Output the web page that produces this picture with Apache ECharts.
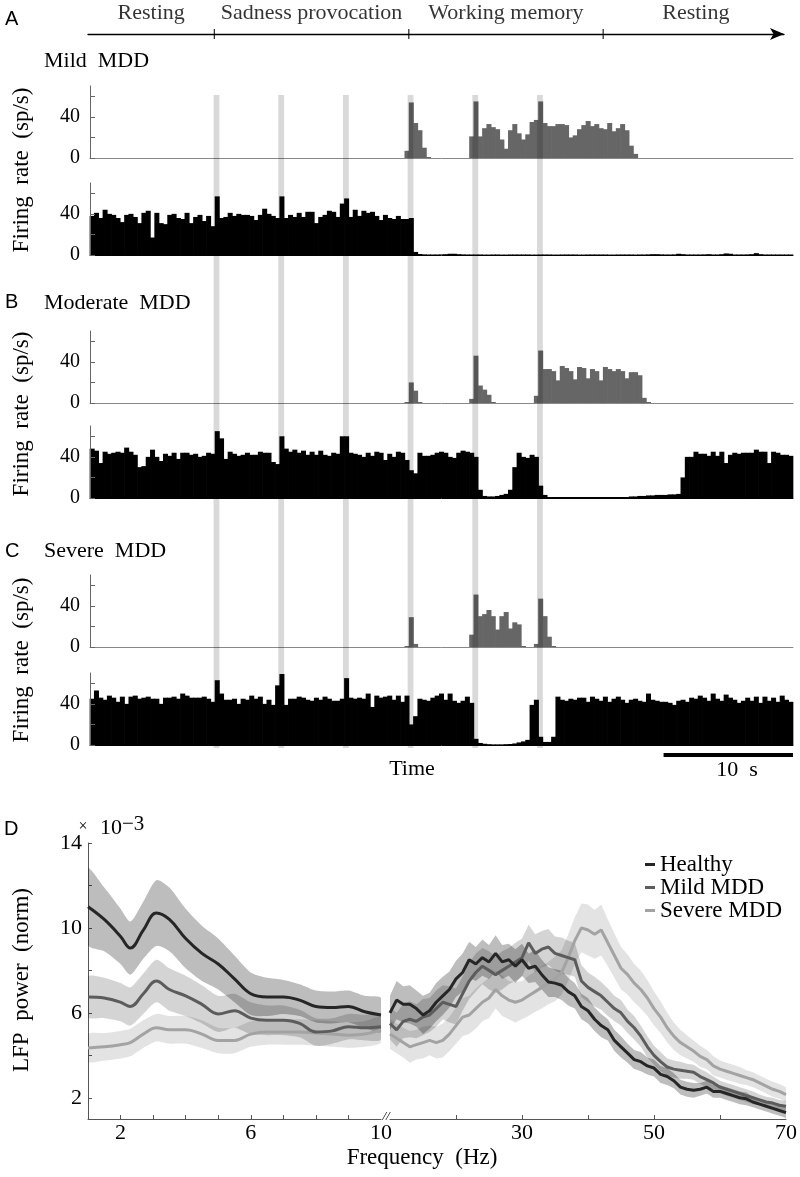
<!DOCTYPE html>
<html><head><meta charset="utf-8">
<script src="https://cdn.jsdelivr.net/npm/echarts@6/dist/echarts.min.js"></script>
<style>html,body{margin:0;padding:0;background:#fff}#c{width:800px;height:1177px}</style>
</head><body><div id="c"></div>
<script>
// ---------------- DATA ----------------
const binSec = 1/3;                       // histogram bin width (s)
const phaseNames = ['Resting','Sadness provocation','Working memory','Resting'];
const phaseEdges = [-0.15, 9.6, 24.6, 39.6, 53.9];   // s (first/last = arrow extent)
const stimOnsets = [9.55, 14.55, 19.55, 24.55, 29.55, 34.55]; // s
const stimDur = 0.45;                     // s
const scaleBarStart = 44.33, scaleBarLen = 10; // s

const mildTop = [
0,0,0,0,0,0,0,0,0,0, 0,0,0,0,0,0,0,0,0,0, 0,0,0,0,0,0,0,0,0,0, 0,0,0,0,0,0,0,0,0,0,
0,0,0,0,0,0,0,0,0,0, 0,0,0,0,0,0,0,0,0,0, 0,0,0,0,0,0,0,0,0,0,
0,0,0,7,54,34,27,10,1,0, 0,0,0,0,0,0,0,0,21,55,
21,29,33,30,28,18,9,27,33,24, 18,23,35,37,55,34,31,31,33,33,
32,20,22,28,32,36,31,33,29,28, 34,26,29,33,27,12,4,0,0,0,
0,0,0,0,0,0,0,0,0,0, 0,0,0,0,0,0,0,0,0,0, 0,0,0,0,0,0,0,0,0,0, 0,0,0];
const mildBot = [
38,41,36,44,40,39,36,32,39,40, 37,31,41,43,17,41,31,30,39,40,
36,35,41,31,37,39,33,38,28,57, 36,37,41,38,40,39,39,38,34,39,
45,40,38,36,57,36,39,37,41,37, 42,42,31,37,39,43,42,37,50,55,
37,44,38,43,41,42,38,34,39,36, 35,38,35,35,36,3,1,0.6,0.5,0.5,
0.5,0.6,0.8,1.2,1.2,0.8,0.6,0.5,0.5,0.5, 0.5,0.4,0.4,0.5,0.5,0.4,0.4,0.5,0.5,0.5,
0.5,0.5,0.4,0.4,0.5,0.5,0.5,0.4,0.4,0.5, 0.5,0.5,0.5,0.4,0.4,0.5,0.5,0.5,0.5,0.5,
0.4,0.4,0.5,0.5,0.5,0.5,0.4,0.5,0.5,0.6, 0.8,0.8,0.6,0.5,0.5,0.6,1.2,0.8,0.5,0.5,
0.5,0.5,0.6,0.8,0.5,0.5,0.8,1.5,1.2,0.5, 0.5,0.5,0.6,0.8,1.8,0.8,0.5,0.5,0.5,0.5,
0.5,0.5,0.5];
const modTop = [
0,0,0,0,0,0,0,0,0,0, 0,0,0,0,0,0,0,0,0,0, 0,0,0,0,0,0,0,0,0,0, 0,0,0,0,0,0,0,0,0,0,
0,0,0,0,0,0,0,0,0,0, 0,0,0,0,0,0,0,0,0,0, 0,0,0,0,0,0,0,0,0,0,
0,0,0,1,20,12,1,0,0,0, 0,0,0,0,0,0,0,0,4,46,
17,13,8,1,0,0,0,0,0,0, 0,0,0,7,51,33,33,31,22,36,
34,31,23,35,34,24,33,31,22,35, 33,31,33,31,24,30,30,27,5,1,
0,0,0,0,0,0,0,0,0,0, 0,0,0,0,0,0,0,0,0,0, 0,0,0,0,0,0,0,0,0,0, 0,0,0];
const modBot = [
48,46,34,45,43,44,45,44,49,45, 42,30,31,40,47,40,36,43,41,44,
38,44,44,42,43,40,41,44,43,65, 58,38,45,43,41,42,44,42,42,45,
44,44,35,33,60,48,45,47,44,46, 42,45,42,46,42,41,44,43,60,60,
44,43,42,40,44,41,45,44,37,43, 40,45,44,37,27,24,44,41,41,42,
44,45,44,40,39,44,46,45,44,40, 8,2,1.5,1.5,2,3,4,8,30,44,
40,39,42,40,12,3,1,1,1,1, 1,1,1,1,1,1,1,1,1,1,
1,1,1,1,1,1.5,1.5,2,2,2.5, 2.5,3,3,3,3.5,3.5,4,20,40,40,
45,43,43,41,45,41,45,34,42,44, 43,44,44,44,47,45,45,34,45,44,
42,42,41];
const sevTop = [
0,0,0,0,0,0,0,0,0,0, 0,0,0,0,0,0,0,0,0,0, 0,0,0,0,0,0,0,0,0,0, 0,0,0,0,0,0,0,0,0,0,
0,0,0,0,0,0,0,0,0,0, 0,0,0,0,0,0,0,0,0,0, 0,0,0,0,0,0,0,0,0,0,
0,0,0,1,29,3,0,0,0,0, 0,0,0,0,0,0,0,0,12,51,
30,32,36,30,17,30,34,18,24,22, 1,0,0,3,47,30,10,1,0,0,
0,0,0,0,0,0,0,0,0,0, 0,0,0,0,0,0,0,0,0,0,
0,0,0,0,0,0,0,0,0,0, 0,0,0,0,0,0,0,0,0,0, 0,0,0,0,0,0,0,0,0,0, 0,0,0];
const sevBot = [
45,53,46,44,48,46,42,47,40,47, 48,45,46,47,45,45,40,46,46,47,
45,50,48,46,46,46,47,45,42,63, 50,44,44,45,40,45,44,48,45,47,
40,44,39,58,69,39,45,45,47,46, 44,43,46,44,47,45,43,43,45,65,
46,45,46,45,50,37,48,46,47,48, 44,48,42,48,20,28,45,44,43,46,
48,50,44,50,43,41,43,47,41,6, 2,1.2,0.8,0.6,0.6,0.6,0.8,1,1.5,2.5,
3.5,5,39,44,8,3,3,8,47,44, 43,45,44,46,46,42,47,45,43,47,
42,45,47,44,41,44,45,43,42,50, 44,43,42,42,41,39,43,44,42,46,
45,48,46,43,50,45,43,49,46,44, 41,43,46,43,47,41,47,43,46,42,
48,44,42];

const histYTicks = [0,20,40,60];
const histYLabels = [0,40];

// LFP power (x 10^-3), low band (Hz) and high band (Hz)
const freqL = [1,1.5,2,2.3,2.7,3.1,3.5,4,4.5,5,5.5,6,6.5,7,7.5,8,8.5,9,9.5,10];
const healthyL    = [11.0,10.4,9.6,9.05,9.9,10.7,10.4,9.5,8.8,8.3,7.6,6.9,6.75,6.75,6.6,6.3,6.25,6.3,6.05,5.9];
const healthyErrL = [1.8,1.5,1.3,1.25,1.35,1.55,1.5,1.4,1.3,1.2,1.1,1.0,0.9,0.8,0.75,0.75,0.75,0.75,0.75,0.8];
const mildL       = [6.75,6.7,6.5,6.3,6.9,7.5,7.1,6.8,6.4,5.95,6.1,5.75,5.65,5.65,5.5,5.1,5.15,5.35,5.3,5.35];
const mildErrL    = [0.95,0.95,0.9,0.9,0.95,1.0,1.0,0.95,0.9,0.85,0.8,0.75,0.7,0.7,0.65,0.65,0.6,0.6,0.6,0.6];
const severeL     = [4.35,4.4,4.5,4.6,5.0,5.3,5.2,5.2,5.0,4.7,4.7,5.0,5.1,5.1,5.1,5.05,5.0,4.95,5.0,5.2];
const severeErrL  = [0.65,0.65,0.65,0.65,0.65,0.65,0.65,0.65,0.65,0.6,0.6,0.6,0.6,0.6,0.6,0.6,0.6,0.6,0.6,0.6];

const freqR = [10,11,12,13,14,15,16,17,18,19,20,21,22,23,24,25,26,27,28,29,30,31,32,33,34,35,36,37,38,39,
40,41,42,43,44,45,46,47,48,49,50,51,52,53,54,55,56,57,58,59,60,61,62,63,64,65,66,67,68,69,70];
const healthyR = [6.0,6.6,6.4,6.4,6.2,5.9,6.1,6.5,6.8,7.1, 7.6,7.9,8.5,8.3,8.6,8.4,8.8,8.4,8.5,8.2,
8.5,8.1,8.2,7.8,7.45,7.4,7.3,7.0,6.8,6.3, 6.1,5.7,5.4,5.2,4.7,4.4,4.1,3.8,3.7,3.5,
3.4,3.1,3.0,2.8,2.5,2.4,2.35,2.4,2.5,2.3, 2.3,2.2,2.1,2.0,1.95,1.8,1.7,1.6,1.5,1.4,1.3];
const healthyErrR = [0.8,0.9,0.85,0.9,0.85,0.9,0.85,0.9,0.9,0.85, 0.85,0.9,0.85,0.8,0.85,0.8,0.85,0.8,0.75,0.8,
0.75,0.7,0.75,0.7,0.7,0.65,0.7,0.65,0.6,0.6, 0.6,0.55,0.55,0.5,0.5,0.5,0.45,0.45,0.45,0.4,
0.4,0.4,0.4,0.35,0.35,0.35,0.35,0.3,0.3,0.3, 0.3,0.3,0.3,0.3,0.3,0.25,0.25,0.25,0.25,0.25,0.25];
const mildR = [5.5,5.2,5.6,5.7,5.6,5.8,5.9,6.2,6.5,6.4, 6.3,6.9,7.5,7.9,8.2,8.0,7.8,8.0,8.2,8.4,
8.6,9.3,8.8,9.0,9.1,8.8,8.7,8.6,8.5,7.5, 7.2,7.0,6.8,6.5,6.2,6.0,5.6,5.3,4.9,4.4,
4.0,3.7,3.45,3.35,3.3,3.25,3.2,3.0,2.85,2.7, 2.5,2.4,2.3,2.2,2.1,2.0,1.9,1.8,1.75,1.65,1.6];
const mildErrR = [0.75,0.8,0.8,0.85,0.8,0.85,0.8,0.85,0.8,0.85, 0.85,0.8,0.85,0.9,0.85,0.9,0.85,0.9,0.85,0.9,
0.9,0.85,0.9,0.85,0.85,0.8,0.85,0.8,0.8,0.75, 0.7,0.7,0.65,0.65,0.6,0.6,0.55,0.55,0.5,0.5,
0.45,0.45,0.4,0.4,0.4,0.35,0.35,0.35,0.35,0.3, 0.3,0.3,0.3,0.3,0.3,0.3,0.25,0.25,0.25,0.25,0.25];
const severeR = [5.0,4.8,4.6,4.4,4.5,4.6,4.7,4.6,4.7,5.0, 5.4,5.8,5.9,6.2,6.5,6.7,7.1,6.8,6.6,6.5,
6.6,6.8,7.0,7.2,7.4,7.6,7.9,8.6,9.4,10.0, 9.9,9.7,9.9,9.3,8.7,8.1,7.8,7.4,7.1,6.7,
6.2,5.8,5.3,4.9,4.6,4.4,4.2,3.95,3.8,3.5, 3.35,3.25,3.15,3.05,2.95,2.85,2.7,2.55,2.4,2.3,2.15];
const severeErrR = [0.7,0.7,0.7,0.75,0.7,0.75,0.7,0.75,0.8,0.8, 0.85,0.9,0.9,0.95,0.9,0.95,0.9,0.95,0.9,0.95,
0.9,0.95,0.95,1.0,1.0,1.05,1.05,1.1,1.1,1.15, 1.2,1.15,1.2,1.1,1.05,1.0,0.95,0.9,0.9,0.85,
0.8,0.75,0.7,0.65,0.6,0.55,0.5,0.5,0.45,0.45, 0.4,0.4,0.4,0.4,0.35,0.35,0.35,0.35,0.35,0.35,0.35];

const dYTicks = [2,4,6,8,10,12,14], dYLabels = [2,6,10,14];
const dXTicksL = [2,3,4,5,6,7,8,9], dXLabelsL = [2,6,10];
const dXTicksR = [20,30,40,50,60], dXLabelsR = [30,50,70];

// ---------------- CHART ----------------
const SERIF = '"Liberation Serif","Times New Roman",serif';
const SANS = '"Liberation Sans",Arial,sans-serif';
const nBins = mildTop.length;
const binCats = mildTop.map((_, i) => String(i));
const totalSec = nBins * binSec;

const grid = [], xAxis = [], yAxis = [], series = [];
function hidden(gi, min, max) {
  return {type:'value', gridIndex:gi, min, max, show:false};
}

// 0: timeline
grid.push({left:88, top:33, width:696, height:2});
xAxis.push({type:'value', gridIndex:0, min:phaseEdges[0], max:53.55,
  axisLine:{show:true, onZero:true, symbol:['none','arrow'], symbolSize:[9,14], lineStyle:{color:'#000', width:1.3}},
  axisTick:{show:false}, axisLabel:{show:false}, splitLine:{show:false}});
yAxis.push(hidden(0, -1, 1));
series.push({type:'scatter', xAxisIndex:0, yAxisIndex:0, silent:true, symbol:'rect', symbolSize:[1.3,10],
  itemStyle:{color:'#000'}, data: phaseEdges.slice(1, -1).map(b => [b, 0]), z:5});
series.push({type:'scatter', xAxisIndex:0, yAxisIndex:0, silent:true, symbolSize:1, itemStyle:{color:'rgba(0,0,0,0)'},
  data: phaseNames.map((n, i) => ({name:n, value:[(phaseEdges[i] + phaseEdges[i+1]) / 2, 0]})),
  label:{show:true, position:'top', distance:9, formatter: p => p.name, fontFamily:SERIF, fontSize:22, color:'#000'}});

// 1: stimulus stripes (drawn on top as a translucent dark overlay)
grid.push({left:90, top:95, width:703, height:653});
xAxis.push(hidden(1, 0, totalSec));
yAxis.push(hidden(1, 0, 1));
series.push({type:'custom', xAxisIndex:1, yAxisIndex:1, silent:true, z:6,
  data: stimOnsets.map(t => [t, 0]),
  renderItem: (params, api) => {
    const p0 = api.coord([api.value(0), 1]);
    const p1 = api.coord([api.value(0) + stimDur, 0]);
    return {type:'rect', shape:{x:p0[0], y:p0[1], width:p1[0] - p0[0], height:p1[1] - p0[1]},
      style:{fill:'rgba(0,0,0,0.15)'}};
  }});

// 2..7: histograms (contiguous bins drawn through the category/value scales)
const histTops = [86, 183, 331, 426, 575, 673];
const histData = [mildTop, mildBot, modTop, modBot, sevTop, sevBot];
histData.forEach((d, k) => {
  const gi = 2 + k, isTop = k % 2 === 0;
  const col = isTop ? '#666' : '#000';
  grid.push({left:90, top:histTops[k], width:703, height:72});
  xAxis.push({type:'category', gridIndex:gi, data:binCats, boundaryGap:true, z:4,
    axisLine:{show:true, lineStyle:{color: isTop ? '#888' : '#000', width:1}},
    axisTick:{show:false}, axisLabel:{show:false}, splitLine:{show:false}});
  yAxis.push({type:'value', gridIndex:gi, min:0, max:70, interval:20, z:4,
    axisLine:{show:true, lineStyle:{color:'#666', width:1}},
    axisTick:{show:true, inside:true, length:5, customValues:histYTicks, lineStyle:{color:'#666'}},
    axisLabel:{show:true, customValues:histYLabels, formatter: v => histYLabels.includes(v) ? String(v) : '',
      fontFamily:SERIF, fontSize:20, color:'#000', margin:10},
    splitLine:{show:false}});
  series.push({type:'custom', xAxisIndex:gi, yAxisIndex:gi, silent:true, z:3,
    data: d.map((v, i) => [i, v]),
    renderItem: (params, api) => {
      const top = api.coord([api.value(0), api.value(1)]);
      const base = api.coord([api.value(0), 0]);
      const w = api.size([1, 0])[0];
      return {type:'rect', shape:{x: top[0] - w / 2 - 0.35, y: top[1], width: w + 0.7, height: base[1] - top[1]},
        style:{fill: col}};
    }});
});

// 8: scale bar
grid.push({left:90, top:754, width:703, height:2});
xAxis.push(hidden(8, 0, totalSec));
yAxis.push(hidden(8, -1, 1));
series.push({type:'line', xAxisIndex:8, yAxisIndex:8, silent:true, symbol:'none',
  data:[[scaleBarStart, 0], [scaleBarStart + scaleBarLen, 0]], lineStyle:{color:'#000', width:4}});

// 9, 10: LFP power
const dAxisLine = {show:true, lineStyle:{color:'#555', width:1}};
grid.push({left:88, top:843, width:293, height:276});
grid.push({left:390, top:843, width:403, height:276});
xAxis.push({type:'value', gridIndex:9, min:1, max:10, axisLine:dAxisLine,
  axisTick:{show:true, inside:true, length:4, customValues:dXTicksL, lineStyle:{color:'#555'}},
  axisLabel:{customValues:dXLabelsL, formatter: v => dXLabelsL.includes(v) ? String(v) : '', fontFamily:SERIF, fontSize:22, color:'#000', margin:3},
  splitLine:{show:false}});
xAxis.push({type:'value', gridIndex:10, min:10, max:70, axisLine:dAxisLine,
  axisTick:{show:true, inside:true, length:4, customValues:dXTicksR, lineStyle:{color:'#555'}},
  axisLabel:{customValues:dXLabelsR, formatter: v => dXLabelsR.includes(v) ? String(v) : '', fontFamily:SERIF, fontSize:22, color:'#000', margin:3},
  splitLine:{show:false}});
yAxis.push({type:'value', gridIndex:9, min:1, max:14, axisLine:dAxisLine,
  axisTick:{show:true, inside:true, length:4, customValues:dYTicks, lineStyle:{color:'#555'}},
  axisLabel:{customValues:dYLabels, formatter: v => dYLabels.includes(v) ? String(v) : '', fontFamily:SERIF, fontSize:22, color:'#000', margin:6},
  splitLine:{show:false}});
yAxis.push(hidden(10, 1, 14));

const groups = [
  {name:'Healthy',    L:healthyL, eL:healthyErrL, R:healthyR, eR:healthyErrR, line:'#262626', band:'rgba(0,0,0,0.26)'},
  {name:'Mild MDD',   L:mildL,    eL:mildErrL,    R:mildR,    eR:mildErrR,    line:'#5c5c5c', band:'rgba(0,0,0,0.17)'},
  {name:'Severe MDD', L:severeL,  eL:severeErrL,  R:severeR,  eR:severeErrR,  line:'#a3a3a3', band:'rgba(0,0,0,0.11)'}
];
['L','R'].forEach((seg, si) => {
  const f = seg === 'L' ? freqL : freqR, ax = 9 + si, sm = seg === 'L' ? 0.4 : false;
  groups.forEach(g => {
    const m = g[seg], e = g['e' + seg];
    series.push({type:'custom', xAxisIndex:ax, yAxisIndex:ax, silent:true, z:2, clip:true,
      data:[[f[0], m[0]]],
      renderItem: (params, api) => {
        const up = f.map((x, i) => api.coord([x, m[i] + e[i]]));
        const lo = f.map((x, i) => api.coord([x, m[i] - e[i]])).reverse();
        return {type:'polygon', shape:{points: up.concat(lo), smooth: seg === 'L' ? 0.25 : 0}, style:{fill:g.band}};
      }});
  });
  groups.slice().reverse().forEach(g => {
    const m = g[seg];
    series.push({type:'line', name:g.name, xAxisIndex:ax, yAxisIndex:ax, silent:true, symbol:'none', smooth:sm, z:3,
      data: f.map((x, i) => [x, m[i]]), lineStyle:{color:g.line, width:3}, itemStyle:{color:g.line}});
  });
});

function txt(x, y, text, font, align, rot) {
  return {type:'text', x, y, rotation: rot || 0, silent:true, z:10,
    style:{text, font, fill:'#000', align: align || 'left', textAlign: align || 'left', verticalAlign:'middle', textVerticalAlign:'middle'}};
}
const graphic = [
  txt(5, 19, 'A', '20px ' + SANS),
  txt(44, 61, 'Mild  MDD', '22px ' + SERIF),
  txt(5, 302, 'B', '20px ' + SANS),
  txt(44, 303, 'Moderate  MDD', '22px ' + SERIF),
  txt(5, 551, 'C', '20px ' + SANS),
  txt(44, 551, 'Severe  MDD', '22px ' + SERIF),
  txt(22, 170, 'Firing  rate  (sp/s)', '23px ' + SERIF, 'center', Math.PI/2),
  txt(22, 414, 'Firing  rate  (sp/s)', '23px ' + SERIF, 'center', Math.PI/2),
  txt(22, 660, 'Firing  rate  (sp/s)', '23px ' + SERIF, 'center', Math.PI/2),
  txt(412, 769, 'Time', '22px ' + SERIF, 'center'),
  txt(737, 770, '10  s', '22px ' + SERIF, 'center'),
  txt(4, 829, 'D', '20px ' + SANS),
  txt(83, 827, '×', '16px ' + SERIF, 'center'),
  txt(100, 828, '10', '22px ' + SERIF),
  txt(122, 824, '−3', '21px ' + SERIF),
  txt(22, 980, 'LFP  power  (norm)', '23px ' + SERIF, 'center', Math.PI/2),
  txt(422, 1158, 'Frequency  (Hz)', '23px ' + SERIF, 'center'),
  txt(386, 1117, '//', 'italic 13px ' + SERIF, 'center')
];

const chart = echarts.init(document.getElementById('c'), null, {renderer:'canvas'});
chart.setOption({
  animation:false, backgroundColor:'#fff',
  grid, xAxis, yAxis, series, graphic,
  legend:{data:['Healthy','Mild MDD','Severe MDD'], orient:'vertical', left:640, top:848, icon:'rect',
    itemWidth:10, itemHeight:3, itemGap:0, selectedMode:false,
    textStyle:{fontFamily:SERIF, fontSize:23, lineHeight:22, color:'#000'}}
});
</script></body></html>
